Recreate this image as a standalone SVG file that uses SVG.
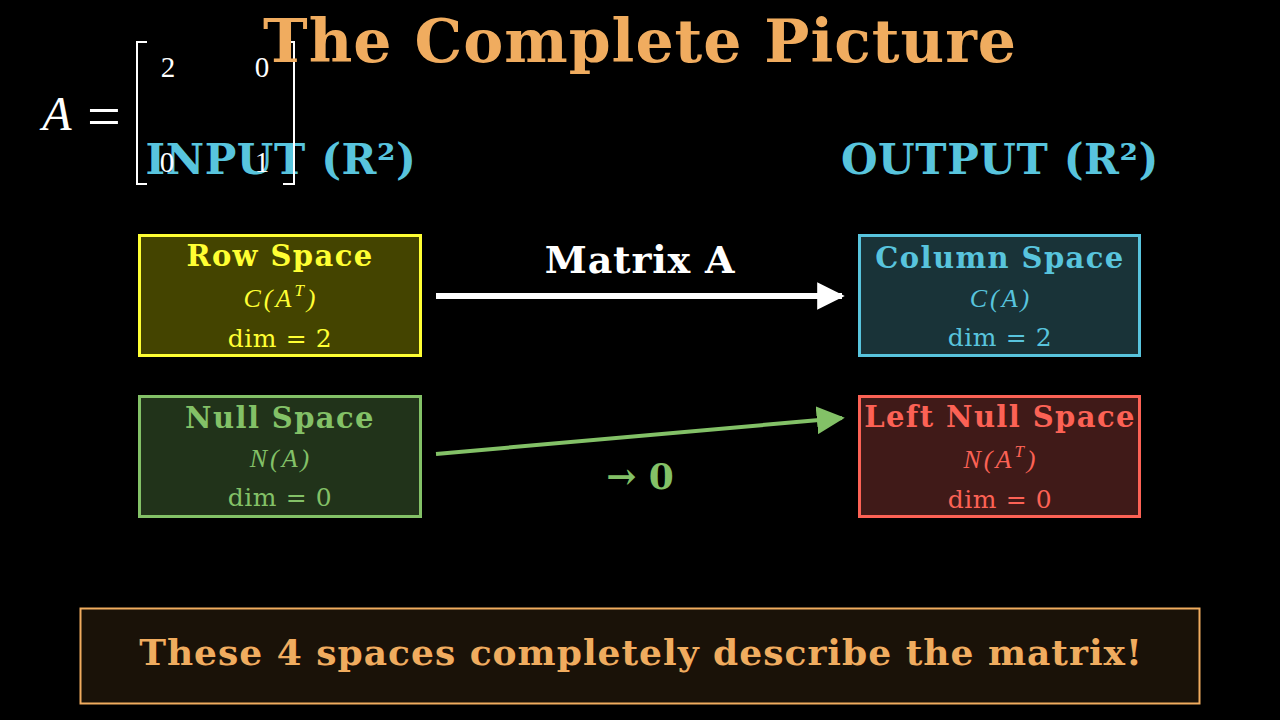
<svg xmlns="http://www.w3.org/2000/svg" width="1280" height="720" viewBox="0 0 1280 720">
<defs>
<style>
.b{font-family:"DejaVu Serif","Liberation Serif",serif;font-weight:bold;text-anchor:middle}
.h{letter-spacing:1.4px}
.r{font-family:"DejaVu Serif","Liberation Serif",serif;text-anchor:middle;letter-spacing:0.6px}
.m{font-family:"Liberation Serif","DejaVu Serif",serif;font-style:italic;text-anchor:middle;font-size:26px;letter-spacing:3px}
.n{font-family:"Liberation Serif","DejaVu Serif",serif;text-anchor:middle;fill:#fff;font-size:29px}
.box{stroke-width:3}
</style>
<marker id="ahw" viewBox="0 0 10 10" refX="9" refY="5" markerWidth="4.6" markerHeight="4.6" markerUnits="strokeWidth" orient="auto"><path d="M0,0 L10,5 L0,10 z" fill="#fff"/></marker>
<marker id="ahg" viewBox="0 0 10 10" refX="9" refY="5" markerWidth="7" markerHeight="7" markerUnits="strokeWidth" orient="auto"><path d="M0,0 L10,5 L0,10 z" fill="#83C167"/></marker>
</defs>
<rect width="1280" height="720" fill="#000"/>

<g id="input-label"><text class="b" x="281" y="174" font-size="42" fill="#58C4DD" letter-spacing="0.6">INPUT (R²)</text></g>
<g id="output-label"><text class="b" x="1000" y="174" font-size="42" fill="#58C4DD" letter-spacing="0.6">OUTPUT (R²)</text></g>

<g id="matrix">
<text x="57" y="130" font-size="48" fill="#fff" font-family="Liberation Serif,serif" font-style="italic" text-anchor="middle">A</text>
<text x="104" y="136" font-size="60" fill="#fff" font-family="Liberation Serif,serif" text-anchor="middle">=</text>
<path d="M147,42 H137 V184 H147 M283,42 H294 V184 H283" fill="none" stroke="#fff" stroke-width="2"/>
<text class="n" x="168" y="77">2</text>
<text class="n" x="262" y="77">0</text>
<text class="n" x="167" y="172">0</text>
<text class="n" x="262" y="172">1</text>
</g>

<g id="title"><text class="b" x="640" y="62" font-size="60" fill="#F0AC5F" letter-spacing="1">The Complete Picture</text></g>

<g id="connectors">
<line x1="436" y1="296" x2="842" y2="296" stroke="#fff" stroke-width="6" marker-end="url(#ahw)"/>
<line x1="436" y1="454" x2="842" y2="418" stroke="#83C167" stroke-width="4" marker-end="url(#ahg)"/>
<text class="b" x="640" y="273" font-size="38" fill="#fff" letter-spacing="0.8">Matrix A</text>
<text class="b" x="640" y="489" font-size="36" fill="#83C167">→ 0</text>
</g>

<g id="row-space">
<rect class="box" x="139.5" y="235.5" width="281" height="120" fill="#444400" stroke="#FFFF33"/>
<text class="b h" x="280" y="266" font-size="29" fill="#FFFF33">Row Space</text>
<text class="m" x="281" y="307" fill="#FFFF33">C(A<tspan font-size="17" dy="-11">T</tspan><tspan dy="11">)</tspan></text>
<text class="r" x="280" y="347" font-size="25" fill="#FFFF33">dim = 2</text>
</g>

<g id="column-space">
<rect class="box" x="859.5" y="235.5" width="280" height="120" fill="#193338" stroke="#58C4DD"/>
<text class="b h" x="1000" y="268" font-size="29" fill="#58C4DD">Column Space</text>
<text class="m" x="1001" y="307" fill="#58C4DD">C(A)</text>
<text class="r" x="1000" y="346" font-size="25" fill="#58C4DD">dim = 2</text>
</g>

<g id="null-space">
<rect class="box" x="139.5" y="396.5" width="281" height="120" fill="#21331A" stroke="#83C167"/>
<text class="b h" x="280" y="428" font-size="29" fill="#83C167">Null Space</text>
<text class="m" x="281" y="467" fill="#83C167">N(A)</text>
<text class="r" x="280" y="506" font-size="25" fill="#83C167">dim = 0</text>
</g>

<g id="left-null-space">
<rect class="box" x="859.5" y="396.5" width="280" height="120" fill="#401A18" stroke="#FC6255"/>
<text class="b h" x="1000" y="427" font-size="29" fill="#FC6255">Left Null Space</text>
<text class="m" x="1001" y="468" fill="#FC6255">N(A<tspan font-size="17" dy="-11">T</tspan><tspan dy="11">)</tspan></text>
<text class="r" x="1000" y="508" font-size="25" fill="#FC6255">dim = 0</text>
</g>

<g id="summary">
<rect x="80.5" y="608.5" width="1119" height="95" fill="#1A1208" stroke="#F0AC5F" stroke-width="2"/>
<text class="b" x="641" y="665" font-size="36" fill="#F0AC5F" letter-spacing="1">These 4 spaces completely describe the matrix!</text>
</g>
</svg>
